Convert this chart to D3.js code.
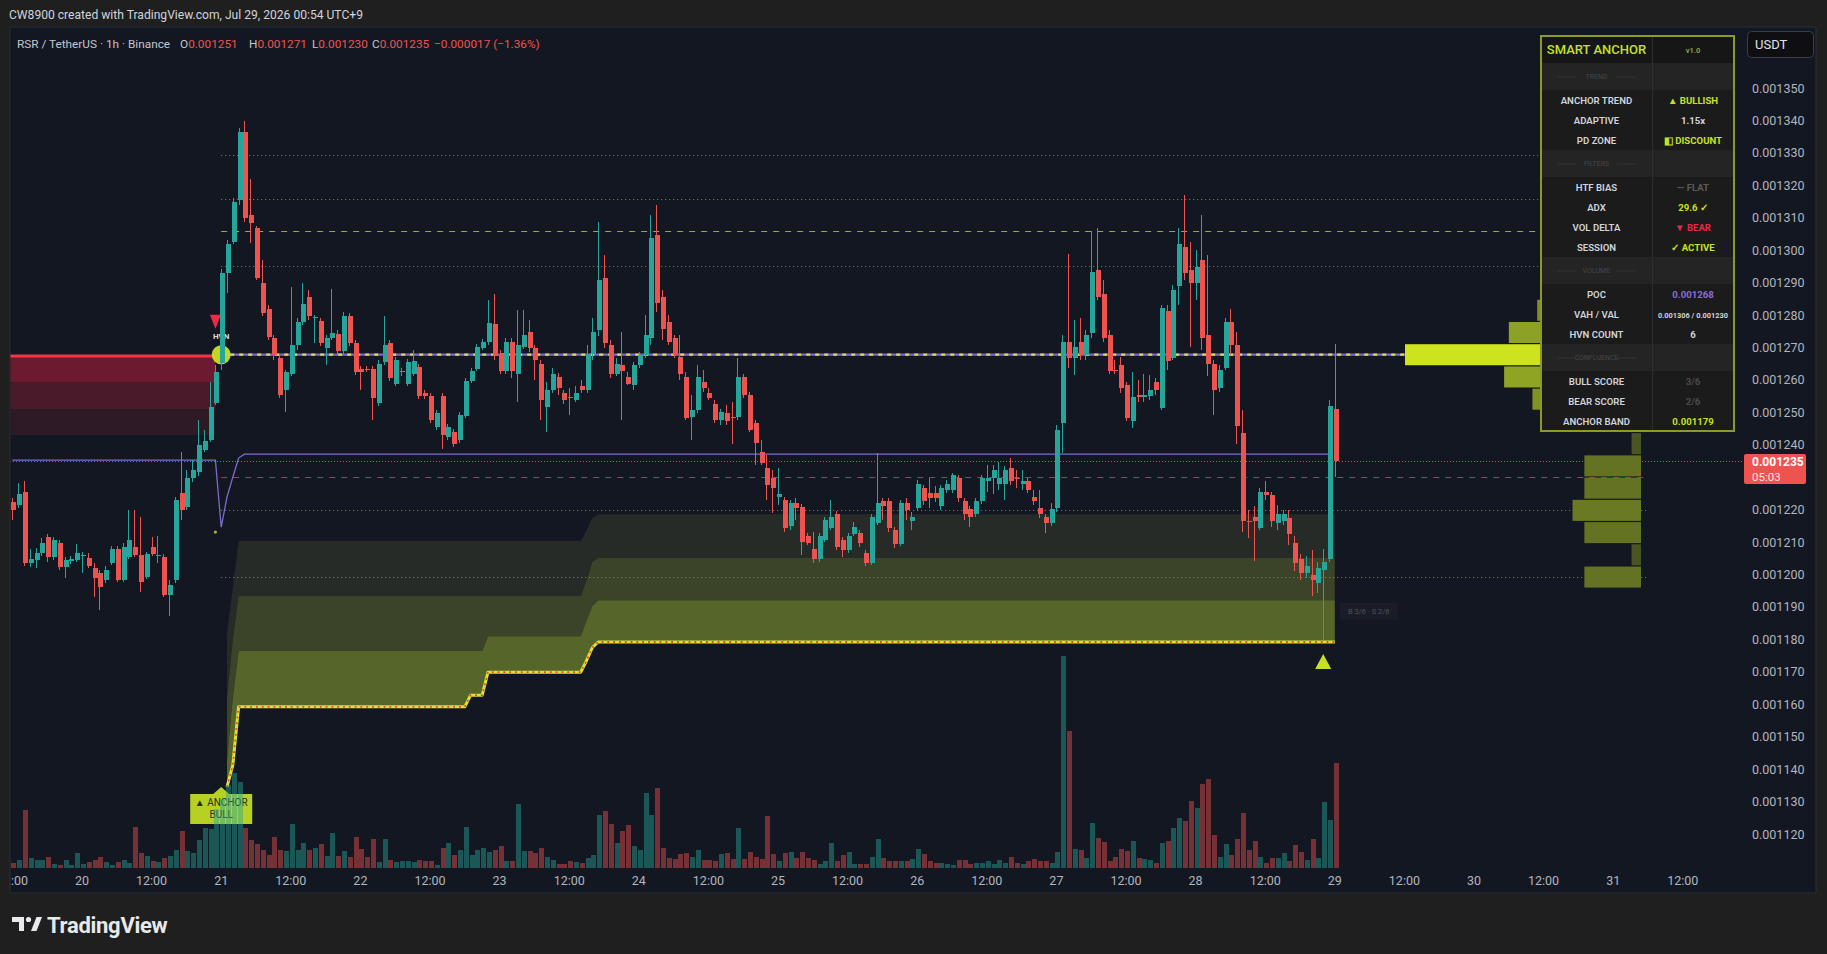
<!DOCTYPE html>
<html>
<head>
<meta charset="utf-8">
<script src="https://cdn.jsdelivr.net/npm/d3@7/dist/d3.min.js"></script>
<style>
  html, body { margin: 0; padding: 0; background: #1f1f1f; overflow: hidden; }
  svg { display: block; font-family: Roboto, "Noto Sans", sans-serif; }
</style>
</head>
<body>
<svg id="chart"></svg>
<script>
// ----- DATA (all prices in USDT x 1e6, one candle per hour from Jul 19 12:00) -----
const ohlc = [
  [1222.3,1223.6,1216.8,1219.9],[1221.4,1228.2,1220.5,1224.8],[1225.4,1228.8,1202.6,1203.5],[1203.5,1207.8,1202.3,1204.8],
  [1204.5,1208.1,1202.0,1206.6],[1206.6,1211.2,1205.7,1209.7],[1211.6,1212.5,1203.9,1205.4],[1205.4,1211.6,1204.5,1210.6],
  [1209.7,1210.6,1201.4,1202.3],[1202.3,1205.4,1198.9,1204.5],[1204.2,1205.7,1203.2,1204.8],[1204.5,1209.4,1203.9,1206.6],
  [1205.7,1206.9,1200.4,1206.0],[1205.1,1206.6,1202.0,1202.6],[1202.0,1203.5,1193.1,1198.9],[1200.6,1201.4,1189.0,1196.3],
  [1198.3,1202.6,1197.4,1201.4],[1203.5,1208.8,1202.9,1207.8],[1207.8,1208.8,1197.7,1198.3],[1198.3,1209.7,1197.7,1208.5],
  [1205.4,1219.9,1204.8,1210.6],[1208.5,1219.9,1205.4,1206.0],[1206.0,1217.7,1194.6,1197.7],[1199.2,1206.9,1198.6,1206.3],
  [1208.5,1211.6,1205.7,1206.3],[1205.7,1211.9,1203.5,1206.0],[1205.4,1206.3,1193.1,1193.7],[1193.7,1198.3,1187.1,1196.8],
  [1198.3,1223.9,1197.4,1223.0],[1225.1,1237.8,1216.8,1219.9],[1220.8,1232.2,1219.9,1229.7],[1229.7,1235.3,1228.5,1232.2],
  [1231.6,1247.6,1230.4,1239.9],[1238.4,1244.5,1237.8,1241.2],[1241.5,1259.3,1240.9,1251.6],[1252.9,1264.6,1252.3,1262.4],
  [1265.2,1294.2,1263.0,1293.0],[1293.0,1303.1,1286.8,1301.9],[1302.5,1316.1,1301.9,1314.9],[1315.5,1337.7,1313.9,1336.4],
  [1336.4,1339.8,1308.7,1309.9],[1310.8,1321.9,1302.2,1308.4],[1306.8,1307.4,1290.8,1291.4],[1289.9,1297.0,1279.7,1280.6],
  [1281.9,1283.1,1272.3,1273.2],[1272.9,1273.8,1266.1,1267.7],[1266.7,1268.0,1254.4,1255.3],[1256.9,1263.0,1250.1,1262.4],
  [1261.8,1288.6,1261.2,1270.8],[1270.8,1279.1,1269.2,1277.9],[1277.9,1289.9,1276.9,1283.4],[1285.6,1287.7,1278.5,1279.7],
  [1279.1,1280.0,1271.4,1279.4],[1278.2,1279.1,1270.4,1271.4],[1269.8,1273.8,1264.6,1272.9],[1272.9,1288.0,1272.3,1274.5],
  [1274.2,1275.4,1268.0,1268.9],[1268.9,1280.9,1268.0,1279.7],[1279.7,1280.6,1270.4,1271.4],[1271.4,1272.3,1261.5,1262.4],
  [1263.3,1264.3,1256.9,1262.4],[1263.3,1264.3,1262.4,1263.0],[1263.3,1264.3,1247.6,1254.4],[1252.9,1266.1,1251.9,1264.9],
  [1265.5,1279.7,1264.6,1270.8],[1271.4,1272.3,1259.6,1260.6],[1258.7,1267.1,1258.1,1266.1],[1262.4,1263.6,1261.2,1262.7],
  [1258.7,1266.4,1258.1,1265.5],[1261.8,1269.2,1261.2,1265.8],[1263.9,1264.9,1254.1,1255.0],[1255.9,1256.9,1254.1,1255.0],
  [1255.0,1255.9,1246.7,1247.6],[1245.5,1250.7,1244.5,1249.8],[1255.0,1255.9,1238.7,1243.0],[1242.4,1246.4,1241.5,1245.5],
  [1243.9,1244.9,1239.3,1240.2],[1241.5,1250.1,1240.5,1249.2],[1248.9,1260.6,1248.2,1259.6],[1259.6,1263.6,1259.0,1262.7],
  [1263.3,1271.1,1262.7,1270.1],[1269.8,1272.6,1269.2,1271.7],[1271.7,1284.6,1270.8,1277.5],[1277.2,1286.5,1266.1,1267.4],
  [1268.0,1269.2,1261.8,1262.7],[1262.7,1272.9,1261.8,1271.7],[1271.7,1272.9,1260.6,1262.7],[1261.8,1281.5,1253.2,1270.8],
  [1270.1,1281.5,1269.5,1273.8],[1274.8,1278.5,1268.6,1269.8],[1269.8,1270.8,1260.0,1266.1],[1264.9,1266.1,1247.6,1253.8],
  [1251.6,1259.3,1243.9,1256.9],[1256.9,1263.6,1255.9,1261.8],[1260.9,1262.1,1255.3,1257.5],[1255.9,1256.9,1252.6,1253.8],
  [1254.7,1257.5,1249.2,1254.5],[1253.8,1258.1,1253.2,1255.9],[1258.1,1260.0,1255.9,1256.9],[1256.9,1270.8,1255.9,1268.0],
  [1268.0,1279.1,1266.1,1274.8],[1275.4,1308.7,1273.5,1290.8],[1291.4,1298.5,1269.8,1271.4],[1270.8,1272.3,1260.6,1261.8],
  [1261.8,1266.7,1261.2,1264.9],[1264.6,1274.8,1247.6,1262.7],[1260.9,1262.4,1258.4,1258.7],[1258.4,1265.5,1256.9,1264.6],
  [1264.6,1268.6,1263.6,1267.7],[1267.7,1280.0,1266.7,1273.8],[1272.9,1310.8,1270.8,1303.7],[1304.7,1314.0,1280.9,1283.7],
  [1285.6,1287.7,1272.3,1275.7],[1277.9,1280.0,1270.8,1271.7],[1272.9,1273.8,1266.7,1267.7],[1267.1,1273.8,1260.0,1261.8],
  [1260.9,1262.4,1247.6,1248.2],[1248.6,1255.3,1241.5,1250.7],[1250.7,1264.6,1249.8,1260.9],[1259.3,1263.0,1256.3,1257.5],
  [1255.9,1257.5,1253.8,1254.4],[1252.6,1253.8,1246.7,1247.6],[1247.6,1251.0,1246.1,1250.1],[1249.8,1252.3,1246.1,1247.3],
  [1248.6,1253.2,1240.2,1248.4],[1248.6,1266.7,1247.6,1260.9],[1260.9,1261.8,1254.4,1255.3],[1255.3,1256.3,1243.9,1244.5],
  [1246.7,1247.6,1233.7,1240.5],[1237.8,1241.5,1233.7,1234.4],[1232.8,1236.8,1223.0,1227.6],[1229.7,1232.2,1219.0,1226.7],
  [1223.9,1232.8,1221.4,1224.8],[1223.0,1223.9,1213.1,1214.3],[1215.0,1223.0,1213.8,1222.0],[1222.0,1223.6,1216.8,1220.5],
  [1220.8,1221.7,1206.0,1210.0],[1211.9,1212.8,1209.1,1209.7],[1207.8,1213.1,1203.5,1204.8],[1204.8,1212.8,1203.9,1211.9],
  [1210.6,1217.7,1210.0,1216.8],[1214.3,1223.0,1213.7,1217.7],[1218.6,1219.6,1207.5,1208.5],[1210.6,1211.6,1205.4,1207.5],
  [1207.5,1212.8,1206.6,1211.9],[1212.5,1216.2,1211.9,1214.6],[1212.8,1213.7,1208.5,1209.7],[1206.6,1207.5,1202.6,1203.5],
  [1203.5,1218.6,1202.9,1217.7],[1215.9,1237.5,1215.2,1222.0],[1222.7,1223.6,1216.8,1221.1],[1222.7,1223.6,1213.1,1214.3],
  [1213.7,1214.6,1208.1,1209.4],[1209.4,1223.0,1208.8,1222.0],[1222.0,1223.6,1216.8,1219.9],[1216.5,1219.3,1213.7,1217.7],
  [1220.5,1229.1,1219.6,1227.9],[1226.7,1227.6,1221.4,1222.7],[1225.1,1229.7,1220.5,1223.6],[1225.1,1227.3,1222.3,1223.6],
  [1221.1,1227.6,1219.9,1226.7],[1226.0,1229.1,1225.1,1227.9],[1226.0,1231.3,1225.1,1230.7],[1229.7,1230.7,1222.3,1223.6],
  [1222.7,1223.6,1216.8,1218.6],[1220.2,1221.1,1214.6,1217.7],[1218.6,1223.6,1217.7,1222.7],[1222.7,1230.7,1221.7,1229.7],
  [1228.8,1233.7,1225.4,1229.7],[1229.7,1233.7,1224.8,1232.2],[1227.9,1234.7,1226.0,1229.7],[1227.9,1233.4,1223.0,1232.2],
  [1232.8,1235.9,1227.6,1228.8],[1229.7,1232.2,1226.7,1229.5],[1227.9,1232.2,1226.0,1228.8],[1228.8,1229.7,1225.1,1226.0],
  [1223.9,1226.0,1221.4,1222.7],[1220.5,1226.0,1217.4,1218.6],[1217.7,1218.6,1212.8,1215.9],[1215.9,1222.0,1215.0,1220.2],
  [1220.5,1246.1,1219.3,1244.5],[1246.7,1273.8,1237.5,1271.7],[1271.7,1298.8,1263.6,1266.7],[1266.7,1278.5,1261.5,1270.1],
  [1271.7,1279.1,1266.1,1267.7],[1267.7,1275.4,1266.1,1273.8],[1274.5,1305.9,1272.9,1293.3],[1293.9,1306.8,1284.6,1285.6],
  [1286.5,1290.8,1271.7,1272.9],[1273.8,1275.4,1261.8,1262.7],[1263.0,1266.1,1261.8,1262.7],[1264.6,1267.1,1255.9,1257.5],
  [1258.4,1259.3,1247.3,1248.2],[1247.3,1262.4,1245.2,1254.7],[1255.3,1260.0,1253.2,1254.7],[1254.7,1261.8,1253.2,1255.3],
  [1255.0,1261.5,1253.8,1256.9],[1259.3,1260.6,1255.3,1256.9],[1251.3,1283.1,1250.7,1282.2],[1281.2,1283.1,1263.0,1265.8],
  [1266.7,1289.2,1266.1,1287.7],[1288.9,1306.8,1283.1,1301.9],[1301.0,1317.0,1290.8,1293.0],[1293.9,1302.5,1270.1,1289.9],
  [1289.9,1300.0,1284.6,1294.8],[1297.0,1310.8,1269.2,1272.9],[1273.8,1298.5,1261.2,1264.9],[1264.9,1266.1,1249.2,1256.9],
  [1257.5,1264.6,1256.3,1263.0],[1263.6,1279.1,1263.0,1277.9],[1277.9,1281.9,1267.7,1270.8],[1270.8,1274.8,1240.2,1245.8],
  [1243.6,1250.7,1213.1,1216.5],[1216.5,1219.9,1211.2,1216.2],[1217.7,1221.1,1204.2,1216.5],[1214.3,1226.7,1213.7,1225.4],
  [1225.4,1228.8,1223.0,1224.5],[1224.5,1225.4,1214.6,1216.5],[1215.9,1221.4,1213.7,1218.6],[1216.5,1219.9,1215.2,1218.6],
  [1217.4,1219.9,1209.1,1212.5],[1209.7,1211.9,1201.1,1203.5],[1204.8,1206.3,1198.3,1200.5],[1200.5,1205.7,1198.9,1202.6],
  [1199.8,1207.5,1193.4,1198.3],[1197.4,1203.9,1194.3,1202.0],[1201.4,1207.8,1179.8,1203.9],[1204.8,1253.8,1203.9,1252.0],
  [1251.0,1271.0,1230.0,1235.0]
];

const volumes = [
  5,8,58,10,8,8,11,4,3,8, 3,15,4,6,8,11,6,3,6,8, 5,41,15,12,7,6,10,12,18,37,
  17,15,28,40,39,59,69,83,95,86, 40,28,24,18,13,31,18,17,44,18, 25,18,20,24,12,35,12,17,11,31,
  19,11,29,6,29,8,6,7,7,6, 8,7,7,3,20,25,13,18,41,13, 18,20,16,18,22,7,7,64,17,17,
  15,20,11,8,4,4,7,6,5,10, 13,53,57,44,25,37,43,22,18,75, 53,80,20,10,9,14,15,11,18,8,
  8,7,14,15,9,40,9,16,11,9, 52,14,7,15,16,10,16,10,8,4, 7,25,7,13,16,4,4,4,11,29,
  10,7,7,7,7,9,19,14,7,5, 5,4,3,8,8,4,5,5,7,4, 8,5,11,5,4,7,9,7,7,5,
  16,211,136,19,18,10,45,30,26,7, 11,19,17,27,10,9,8,5,25,27, 40,50,47,67,60,84,89,33,11,24,
  13,29,55,18,27,11,5,10,10,15, 7,23,16,8,29,10,66,48,105
];

// anchor band: [candle index, price] vertices
const anchorLine = [[37,1134.5],[38,1141.2],[39,1159.2],[78,1159.2],[79,1162.8],[81,1162.8],[82,1169.9],
  [98,1169.9],[99,1173.5],[100,1177.5],[101,1179.2],[228,1179.2]];
const bandInner = [[37,1143.0],[38,1162.0],[39,1176.4],[81,1176.4],[82,1181.0],[98,1181.0],[99,1185.9],
  [100,1190.3],[101,1192.1],[228,1192.1]];
const bandMid = [[37,1162.0],[38,1180.0],[39,1193.4],[98,1193.4],[99,1198.3],[100,1203.9],[101,1205.1],[228,1205.1]];
const bandOuter = [[37,1182.0],[38,1196.0],[39,1210.3],[98,1210.3],[99,1213.7],[100,1217.4],[101,1218.6],[228,1218.6]];

// thin purple adaptive line
const adaptiveLine = [[0,1235.3],[35,1235.3],[36,1214.6],[37,1223.9],[38,1230.0],[39,1235.9],[40,1237.1],[227,1237.1]];
const signalDot = [35, 1213.1];

// premium (red) zone left of the anchor: edges top -> bottom
const redZone = [1267.4, 1259.3, 1251.0, 1243.0];

// volume profile
const profileTop = 1346.6;
const profileStep = 6.855;
const profileVolume = [15,22,38,26,40,30,28,41,35,44,56,100,58,46,30,4,24,24,29,24,4,24];
const pocBin = 11;
const hvnBins = [2, 4, 7, 18, 21];
const vahPrice = 1306.0;
const valPrice = 1230.0;
const tagPrice = 1188.7;

const priceTicks = [1120,1130,1140,1150,1160,1170,1180,1190,1200,1210,1220,1230,1240,
  1250,1260,1270,1280,1290,1300,1310,1320,1330,1340,1350];

const tableRows = [
  ["header", "SMART ANCHOR", "v1.0"],
  ["section", "TREND", ""],
  ["row", "ANCHOR TREND", "▲ BULLISH"],
  ["row", "ADAPTIVE", "1.15x"],
  ["row", "PD ZONE", "◧ DISCOUNT"],
  ["section", "FILTERS", ""],
  ["row", "HTF BIAS", "— FLAT"],
  ["row", "ADX", "29.6 ✓"],
  ["row", "VOL DELTA", "▼ BEAR"],
  ["row", "SESSION", "✓ ACTIVE"],
  ["section", "VOLUME", ""],
  ["row", "POC", "0.001268"],
  ["row", "VAH / VAL", "0.001306 / 0.001230"],
  ["row", "HVN COUNT", "6"],
  ["section", "CONFLUENCE", ""],
  ["row", "BULL SCORE", "3/6"],
  ["row", "BEAR SCORE", "2/6"],
  ["row", "ANCHOR BAND", "0.001179"]
];

// ----- STYLE -----
const W = 1827, H = 954;
const UP = "#26a69a", DOWN = "#ef5350", LIME = "#c6e125";
const valueColor = {
  "v1.0": "#8e9a45", "▲ BULLISH": LIME, "1.15x": "#d1d4dc", "◧ DISCOUNT": LIME,
  "— FLAT": "#5a5a5a", "29.6 ✓": LIME, "▼ BEAR": "#e8284a", "✓ ACTIVE": LIME,
  "0.001268": "#8a6fd3", "0.001306 / 0.001230": "#d1d4dc", "6": "#d1d4dc",
  "3/6": "#4a4a4a", "2/6": "#4a4a4a", "0.001179": LIME
};

const t0 = Date.UTC(2026, 6, 19, 12);
const tAt = i => new Date(t0 + i * 3600e3);

const svg = d3.select("#chart").attr("width", W).attr("height", H);

const x = d3.scaleUtc().domain([tAt(0), tAt(228)]).range([12.4, 1334.8]);
const y = d3.scaleLinear().domain([1120, 1350]).range([834, 88]);
const vy = d3.scaleLinear().domain([0, d3.max(volumes)]).range([868, 656]);
const xi = i => x(tAt(i));
const fmt6 = v => (v / 1e6).toFixed(6);

svg.append("rect").attr("width", W).attr("height", H).attr("fill", "#1f1f1f");
svg.append("rect").attr("x", 10).attr("y", 27).attr("width", 1806).attr("height", 866)
  .attr("fill", "#131722").attr("stroke", "#2a2e39");

const defs = svg.append("defs");
defs.append("clipPath").attr("id", "plotClip").append("rect")
  .attr("x", 10.5).attr("y", 27.5).attr("width", 1735).attr("height", 865);
defs.append("clipPath").attr("id", "axisClip").append("rect")
  .attr("x", 10.5).attr("y", 860).attr("width", 1735).attr("height", 32);

const plot = svg.append("g").attr("clip-path", "url(#plotClip)");

// ----- RED ZONE -----
const zoneFills = ["#6b1a2f", "#4a1a2a", "#2e1a27"];
zoneFills.forEach((f, k) => {
  plot.append("rect").attr("x", 10).attr("width", xi(35) - 10)
    .attr("y", y(redZone[k])).attr("height", y(redZone[k + 1]) - y(redZone[k]))
    .attr("fill", f);
});
plot.append("line").attr("x1", 10).attr("x2", xi(35))
  .attr("y1", y(redZone[0])).attr("y2", y(redZone[0]))
  .attr("stroke", "#f23645").attr("stroke-width", 3);

// ----- ANCHOR BANDS -----
const pathOf = d3.line().x(d => xi(d[0])).y(d => y(d[1]));
const bandPath = (lo, hi) => pathOf(lo.concat(hi.slice().reverse())) + "Z";
plot.append("path").attr("d", bandPath(bandMid, bandOuter)).attr("fill", "#262b27");
plot.append("path").attr("d", bandPath(bandInner, bandMid)).attr("fill", "#3b4328");
plot.append("path").attr("d", bandPath(anchorLine, bandInner)).attr("fill", "#56652a");

// ----- LEVEL LINES -----
const profileRight = 1641, profileMaxW = 236;
const binCenter = b => profileTop - (b + 0.5) * profileStep;
const pocPrice = binCenter(pocBin);
const lineStart = xi(36), lineEnd = profileRight + 6;

const lastBar = ohlc[ohlc.length - 1];
const prevBar = ohlc[ohlc.length - 2];
const lastClose = lastBar[3];

// current price line
plot.append("line").attr("x1", 10).attr("x2", 1745)
  .attr("y1", Math.round(y(lastClose)) + 0.5).attr("y2", Math.round(y(lastClose)) + 0.5)
  .attr("stroke", DOWN).attr("stroke-dasharray", "1 2").attr("opacity", 0.9);

hvnBins.forEach(b => {
  const yy = Math.round(y(binCenter(b))) + 0.5;
  plot.append("line").attr("x1", lineStart).attr("x2", lineEnd).attr("y1", yy).attr("y2", yy)
    .attr("stroke", "#98a447").attr("stroke-dasharray", "1 3").attr("opacity", 0.85);
});
plot.append("line").attr("x1", lineStart).attr("x2", lineEnd)
  .attr("y1", Math.round(y(vahPrice)) + 0.5).attr("y2", Math.round(y(vahPrice)) + 0.5)
  .attr("stroke", "#9aab3a").attr("stroke-dasharray", "6 6");
plot.append("line").attr("x1", lineStart).attr("x2", lineEnd)
  .attr("y1", Math.round(y(valPrice)) + 0.5).attr("y2", Math.round(y(valPrice)) + 0.5)
  .attr("stroke", "#c52a5a").attr("stroke-dasharray", "6 6");

plot.append("path").attr("d", pathOf(adaptiveLine)).attr("fill", "none")
  .attr("stroke", "#7b6ccc").attr("stroke-width", 1.3);
plot.append("circle").attr("cx", xi(signalDot[0])).attr("cy", y(signalDot[1])).attr("r", 1.6)
  .attr("fill", "#9fb038");

// POC line
const pocLeft = profileRight - profileMaxW;
plot.append("line").attr("x1", lineStart).attr("x2", pocLeft).attr("y1", y(pocPrice)).attr("y2", y(pocPrice))
  .attr("stroke", "#7e64cc").attr("stroke-width", 2.2);
plot.append("line").attr("x1", lineStart).attr("x2", pocLeft).attr("y1", y(pocPrice)).attr("y2", y(pocPrice))
  .attr("stroke", "#d8e04e").attr("stroke-width", 2.2).attr("stroke-dasharray", "4 5");

// ----- VOLUME PROFILE -----
const maxProf = d3.max(profileVolume);
profileVolume.forEach((v, b) => {
  const top = profileTop - b * profileStep, bot = top - profileStep;
  const w = v / maxProf * profileMaxW;
  const ratio = v / maxProf;
  plot.append("rect")
    .attr("x", profileRight - w).attr("width", w)
    .attr("y", y(top) + 0.6).attr("height", y(bot) - y(top) - 1.2)
    .attr("fill", b === pocBin ? "#cde31f" : d3.interpolateRgb("#131722", LIME)(0.28 + 0.72 * ratio));
});

// ----- SIGNALS AT ANCHOR START -----
plot.append("circle").attr("cx", xi(36)).attr("cy", y(pocPrice)).attr("r", 9.5)
  .attr("fill", LIME).attr("opacity", 0.95);
const tx = xi(35), ty = y(pocPrice);
plot.append("path")
  .attr("d", `M${tx - 5.5},${ty - 40}L${tx + 5.5},${ty - 40}L${tx},${ty - 26}Z`)
  .attr("fill", "#f2284a");
plot.append("text").attr("x", xi(36)).attr("y", ty - 16).attr("text-anchor", "middle")
  .attr("font-size", 8).attr("font-weight", 700).attr("fill", "#dcdcdc").text("HVN");

// ----- CANDLES -----
const candles = plot.append("g").attr("shape-rendering", "crispEdges");
candles.selectAll("line").data(ohlc).join("line")
  .attr("x1", (d, i) => Math.round(xi(i)) + 0.5).attr("x2", (d, i) => Math.round(xi(i)) + 0.5)
  .attr("y1", d => y(d[1])).attr("y2", d => y(d[2]))
  .attr("stroke", d => d[3] >= d[0] ? UP : DOWN);
candles.selectAll("rect").data(ohlc).join("rect")
  .attr("x", (d, i) => Math.round(xi(i)) - 1.5).attr("width", 5)
  .attr("y", d => y(Math.max(d[0], d[3])))
  .attr("height", d => Math.max(1, Math.abs(y(d[0]) - y(d[3]))))
  .attr("fill", d => d[3] >= d[0] ? UP : DOWN);

// ----- ANCHOR LINE -----
plot.append("path").attr("d", pathOf(anchorLine)).attr("fill", "none")
  .attr("stroke", "#d9e330").attr("stroke-width", 3).attr("stroke-linejoin", "round");
plot.append("path").attr("d", pathOf(anchorLine)).attr("fill", "none")
  .attr("stroke", "#e8453a").attr("stroke-width", 1.8).attr("stroke-dasharray", "1.8 4");

// ANCHOR BULL label
const lx = xi(36), ly = 794;
plot.append("path")
  .attr("d", `M${lx - 31},${ly}L${lx - 8},${ly}L${lx},${ly - 7}L${lx + 8},${ly}L${lx + 31},${ly}` +
             `L${lx + 31},${ly + 30}L${lx - 31},${ly + 30}Z`)
  .attr("fill", LIME).attr("opacity", 0.92);
plot.append("text").attr("x", lx).attr("y", ly + 12).attr("text-anchor", "middle")
  .attr("font-size", 10).attr("fill", "#2b2f14").text("▲ ANCHOR");
plot.append("text").attr("x", lx).attr("y", ly + 24).attr("text-anchor", "middle")
  .attr("font-size", 10).attr("fill", "#2b2f14").text("BULL");

// ----- VOLUME -----
plot.append("g").attr("shape-rendering", "crispEdges").selectAll("rect").data(volumes).join("rect")
  .attr("x", (d, i) => Math.round(xi(i)) - 1.5).attr("width", 5)
  .attr("y", d => vy(d)).attr("height", d => 868 - vy(d))
  .attr("fill", (d, i) => ohlc[i][3] >= ohlc[i][0] ? UP : DOWN)
  .attr("opacity", 0.45);

// bull signal triangle under the sweep candle
const sx = xi(226), sy = y(ohlc[226][2]) + 14;
plot.append("path").attr("d", `M${sx},${sy}L${sx + 8},${sy + 15}L${sx - 8},${sy + 15}Z`).attr("fill", LIME);

// confluence tag
const cx = xi(228) + 5, cy = y(tagPrice);
plot.append("rect").attr("x", cx).attr("y", cy - 8.5).attr("width", 58).attr("height", 17)
  .attr("fill", "#1a1d26");
plot.append("text").attr("x", cx + 29).attr("y", cy + 3).attr("text-anchor", "middle")
  .attr("font-size", 7.5).attr("fill", "#4e525c").text("B 3/6 · S 2/6");

// ----- TABLE -----
const tb = { x: 1541, y: 36, w: 193, split: 111 };
let rowY = tb.y;
const tableG = svg.append("g");
tableRows.forEach(([type, label, value]) => {
  const h = type === "row" ? 20 : 27;
  const fill = type === "header" ? "#161616" : type === "section" ? "#242424" : "#1b1b1b";
  tableG.append("rect").attr("x", tb.x).attr("y", rowY).attr("width", tb.w).attr("height", h).attr("fill", fill);
  tableG.append("line").attr("x1", tb.x).attr("x2", tb.x + tb.w).attr("y1", rowY + h + 0.5).attr("y2", rowY + h + 0.5)
    .attr("stroke", "#2c2c2c");
  const c1 = tb.x + tb.split / 2, c2 = tb.x + tb.split + (tb.w - tb.split) / 2, mid = rowY + h / 2;
  if (type === "section") {
    tableG.append("text").attr("x", c1).attr("y", mid + 2.5).attr("text-anchor", "middle")
      .attr("font-size", 7).attr("fill", "#474747").text(label);
    [[c1 - 39, c1 - 20], [c1 + 20, c1 + 39]].forEach(([a, b]) =>
      tableG.append("line").attr("x1", a).attr("x2", b).attr("y1", mid + 0.5).attr("y2", mid + 0.5).attr("stroke", "#333"));
  } else if (type === "header") {
    tableG.append("text").attr("x", c1).attr("y", mid + 4.5).attr("text-anchor", "middle")
      .attr("font-size", 13).attr("font-weight", 500).attr("fill", LIME).text(label);
    tableG.append("text").attr("x", c2).attr("y", mid + 3).attr("text-anchor", "middle")
      .attr("font-size", 7.5).attr("font-weight", 700).attr("fill", valueColor[value]).text(value);
  } else {
    tableG.append("text").attr("x", c1).attr("y", mid + 3.5).attr("text-anchor", "middle")
      .attr("font-size", 9.6).attr("font-weight", 600).attr("fill", "#d1d4dc").text(label);
    const small = value.length > 12;
    tableG.append("text").attr("x", c2).attr("y", mid + 3.5).attr("text-anchor", "middle")
      .attr("font-size", small ? 7.4 : 9.6).attr("font-weight", 700)
      .attr("fill", valueColor[value] || "#d1d4dc").text(value);
  }
  rowY += h;
});
tableG.append("line").attr("x1", tb.x + tb.split + 0.5).attr("x2", tb.x + tb.split + 0.5)
  .attr("y1", tb.y).attr("y2", rowY).attr("stroke", "#2e2e2e");
tableG.append("rect").attr("x", tb.x).attr("y", tb.y).attr("width", tb.w).attr("height", rowY - tb.y)
  .attr("fill", "none").attr("stroke", "#8b9a2b").attr("stroke-width", 2);

// ----- PRICE AXIS -----
const axisR = svg.append("g");
priceTicks.filter(p => Math.abs(y(p) - y(lastClose)) > 16).forEach(p => {
  axisR.append("text").attr("x", 1752).attr("y", y(p) + 4.5)
    .attr("font-size", 12.5).attr("fill", "#b2b5be").text(fmt6(p));
});
axisR.append("rect").attr("x", 1744).attr("y", y(lastClose) - 7).attr("width", 62).attr("height", 30)
  .attr("rx", 2).attr("fill", DOWN);
axisR.append("text").attr("x", 1752).attr("y", y(lastClose) + 4.5).attr("font-size", 12)
  .attr("font-weight", 700).attr("fill", "#ffffff").text(fmt6(lastClose));
axisR.append("text").attr("x", 1752).attr("y", y(lastClose) + 20).attr("font-size", 11.5)
  .attr("fill", "#fde5e5").text("05:03");
axisR.append("rect").attr("x", 1747.5).attr("y", 31.5).attr("width", 66).attr("height", 26).attr("rx", 4)
  .attr("fill", "#0f0f11").attr("stroke", "#3a3e48");
axisR.append("text").attr("x", 1755).attr("y", 49).attr("font-size", 13).attr("fill", "#e0e3eb").text("USDT");

// ----- TIME AXIS -----
const timeTicks = d3.utcHour.every(12).range(tAt(0), tAt(289));
const timeFmt = d => d.getUTCHours() === 0 ? d3.utcFormat("%-d")(d) : "12:00";
svg.append("g").attr("clip-path", "url(#axisClip)").selectAll("text").data(timeTicks).join("text")
  .attr("x", d => x(d)).attr("y", 884.5).attr("text-anchor", "middle")
  .attr("font-size", 12.5).attr("fill", "#b2b5be").text(timeFmt);

// ----- HEADER / LEGEND -----
svg.append("text").attr("x", 9).attr("y", 19).attr("font-size", 12.1).attr("fill", "#d1d4dc")
  .text("CW8900 created with TradingView.com, Jul 29, 2026 00:54 UTC+9");

const legend = svg.append("g").attr("font-size", 11.8);
legend.append("text").attr("x", 17).attr("y", 47.5).attr("fill", "#c3c6ce").text("RSR / TetherUS · 1h · Binance");
const minus = s => s.replace("-", "−");
const change = lastClose - prevBar[3];
[["O", lastBar[0], 180], ["H", lastBar[1], 249], ["L", lastBar[2], 312], ["C", lastBar[3], 372]].forEach(([k, v, px]) => {
  const t = legend.append("text").attr("x", px).attr("y", 47.5);
  t.append("tspan").attr("fill", "#c3c6ce").text(k);
  t.append("tspan").attr("fill", DOWN).text(fmt6(v));
});
legend.append("text").attr("x", 434).attr("y", 47.5).attr("fill", DOWN)
  .text(`${minus(fmt6(change))} (${minus((change / prevBar[3] * 100).toFixed(2))}%)`);

// ----- FOOTER LOGO -----
const logo = svg.append("g").attr("fill", "#e8e9ec");
logo.append("path").attr("d", "M12,917h12v14h-5v-9h-7z");
logo.append("circle").attr("cx", 28.5).attr("cy", 919.5).attr("r", 2.6);
logo.append("path").attr("d", "M31,931L36.5,917h5.5L36.5,931z");
logo.append("text").attr("x", 47).attr("y", 933).attr("font-size", 22).attr("font-weight", 700)
  .attr("letter-spacing", -0.3).text("TradingView");
</script>
</body>
</html>
